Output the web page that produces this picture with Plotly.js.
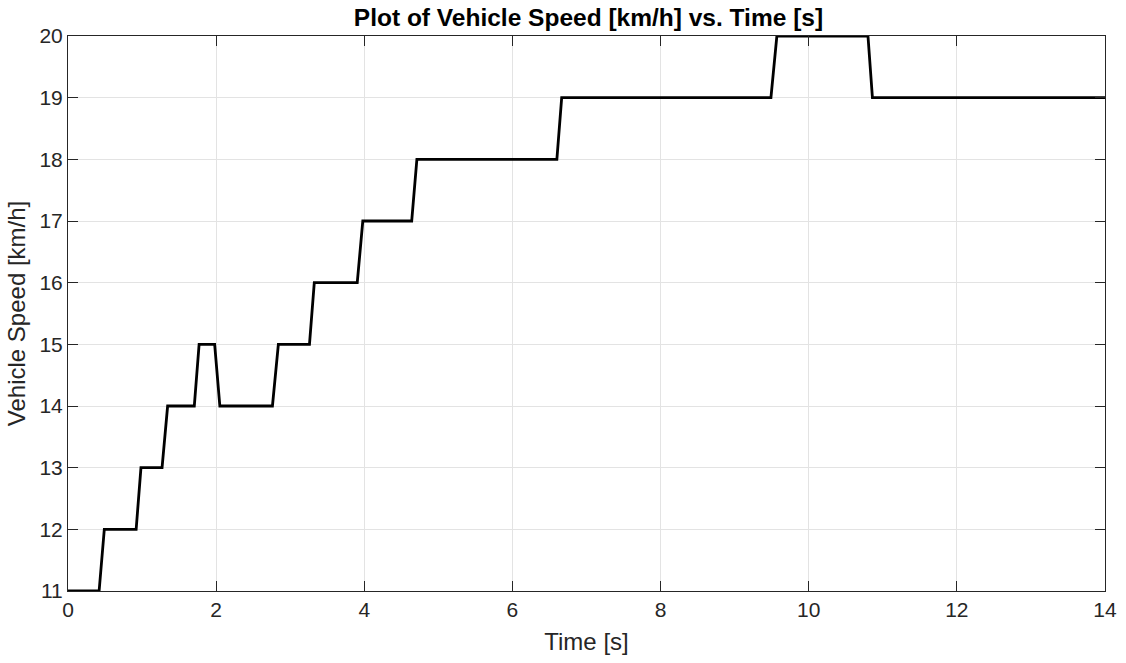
<!DOCTYPE html>
<html>
<head>
<meta charset="utf-8">
<script src="https://cdn.plot.ly/plotly-3.0.1.min.js"></script>
<style>
  html, body { margin: 0; padding: 0; background: #ffffff; }
  #chart { width: 1126px; height: 663px; }
</style>
</head>
<body>
<div id="chart"></div>
<script>
// Vehicle speed trace: time [s] and speed [km/h] at the corners of each step
const timeS = [0, 0.42, 0.49, 0.92, 0.985, 1.27, 1.345, 1.705, 1.77, 1.98, 2.05,
               2.76, 2.84, 3.26, 3.325, 3.905, 3.98, 4.64, 4.71, 6.60, 6.665,
               9.49, 9.57, 10.80, 10.86, 14];
const speedKmh = [11, 11, 12, 12, 13, 13, 14, 14, 15, 15, 14,
                  14, 15, 15, 16, 16, 17, 17, 18, 18, 19,
                  19, 20, 20, 19, 19];
const xTicks = [0, 2, 4, 6, 8, 10, 12, 14];
const yTicks = [11, 12, 13, 14, 15, 16, 17, 18, 19, 20];

const fontFam = 'Liberation Sans, Arial, Helvetica, sans-serif';
const axisColor = '#262626';

const trace = {
  x: timeS,
  y: speedKmh,
  type: 'scatter',
  mode: 'lines',
  line: { color: '#000000', width: 2.8 },
  hoverinfo: 'x+y'
};

const axisCommon = {
  showline: true,
  linecolor: axisColor,
  linewidth: 1,
  mirror: 'ticks',
  ticks: 'inside',
  ticklen: 10,
  tickwidth: 1,
  tickcolor: axisColor,
  showgrid: true,
  gridcolor: '#e3e3e3',
  gridwidth: 1,
  zeroline: false,
  tickfont: { family: fontFam, size: 21, color: axisColor },
  fixedrange: true
};

const layout = {
  width: 1126,
  height: 663,
  margin: { l: 68, r: 21, t: 36, b: 72, pad: 0 },
  paper_bgcolor: '#ffffff',
  plot_bgcolor: '#ffffff',
  showlegend: false,
  title: {
    text: '<b>Plot of Vehicle Speed [km/h] vs. Time [s]</b>',
    font: { family: fontFam, size: 24.5, color: '#000000' },
    x: 0.5226,
    xanchor: 'center',
    y: 0.973,
    yanchor: 'middle'
  },
  xaxis: Object.assign({}, axisCommon, {
    range: [0, 14],
    tickvals: xTicks,
    ticktext: xTicks.map(String),
    title: { text: 'Time [s]', font: { family: fontFam, size: 24, color: axisColor }, standoff: 12 }
  }),
  yaxis: Object.assign({}, axisCommon, {
    range: [11, 20],
    tickvals: yTicks,
    ticktext: yTicks.map(String),
    title: { text: 'Vehicle Speed [km/h]', font: { family: fontFam, size: 24, color: axisColor }, standoff: 7 }
  })
};

Plotly.newPlot('chart', [trace], layout, { displayModeBar: false, staticPlot: true });
</script>
</body>
</html>
